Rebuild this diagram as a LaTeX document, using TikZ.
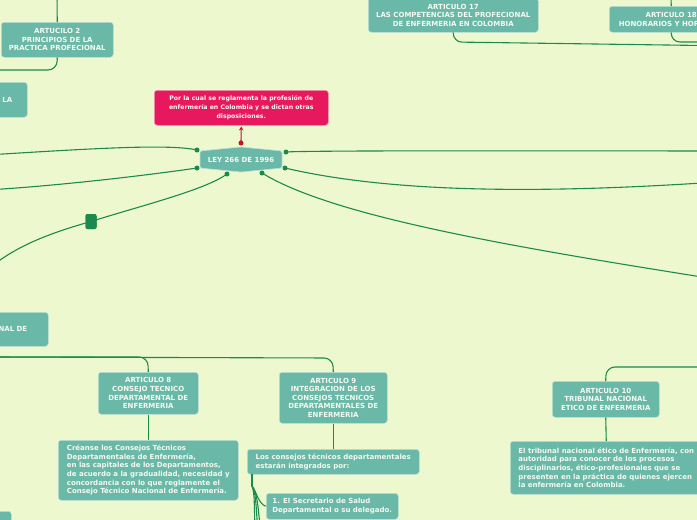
\documentclass[tikz,border=0pt]{standalone}
\usepackage{fontspec}
\setmainfont{DejaVu Sans}
\usetikzlibrary{arrows.meta}
\definecolor{bgc}{HTML}{EEF8CF}
\definecolor{boxc}{HTML}{6AB8A8}
\definecolor{lnc}{HTML}{1B8A4A}
\definecolor{pinkc}{HTML}{E8185F}
\definecolor{redc}{HTML}{C8102E}
\definecolor{txtc}{HTML}{F5FAF0}
\tikzset{
  box/.style={rectangle, rounded corners=3pt, fill=boxc, draw=boxc!45!white, line width=0.5pt,
    inner sep=0pt, anchor=north west, font=\fontsize{7}{8.6}\selectfont\bfseries, text=txtc, align=center},
  lbox/.style={box, align=left},
  conn/.style={draw=lnc, line width=1.1pt},
  dotn/.style={circle, fill=lnc, inner sep=0pt, minimum size=5pt},
}
\begin{document}
\begin{tikzpicture}[x=1pt,y=-1pt]
\useasboundingbox (0,0) rectangle (697,520);
\fill[bgc] (0,0) rectangle (697,520);
\clip (0,0) rectangle (697,520);

% ---------- boxes (positions) ----------
\node[box, minimum width=112pt, minimum height=35pt] (art2) at (1,22)
  {ARTUCILO 2\\PRINCIPIOS DE LA\\PRACTICA PROFECIONAL};
\node[box, minimum width=107pt, minimum height=35pt, text width=77pt, align=right] (labox) at (-80,82) {LA};
\node[box, minimum width=148pt, minimum height=34pt, text width=106pt, align=right] (nalbox) at (-100,312) {NAL DE};
\node[box, minimum width=30pt, minimum height=30pt] (blbox) at (-19,511) {};
\node[box, minimum width=170pt, minimum height=34pt] (art17) at (368,-2)
  {ARTICULO 17\\LAS COMPETENCIAS DEL PROFECIONAL\\DE ENFERMERIA EN COLOMBIA};
\node[box, minimum width=124pt, minimum height=26pt] (art18) at (609,6)
  {ARTICULO 18\\HONORARIOS Y HORARIOS};
\node[box, fill=pinkc, draw=pinkc!45!white, minimum width=174pt, minimum height=35pt,
  font=\fontsize{6.2}{8.7}\selectfont\bfseries] (pink) at (154,90)
  {Por la cual se reglamenta la profesión de\\enfermería en Colombia y se dictan otras\\disposiciones.};
\node[box, minimum width=100pt, minimum height=42pt] (art8) at (98,372)
  {ARTICULO 8\\CONSEJO TECNICO\\DEPARTAMENTAL DE\\ENFERMERIA};
\node[lbox, minimum width=180pt, minimum height=60pt] (creanse) at (58,440)
  {Créanse los Consejos Técnicos\\Departamentales de Enfermería,\\en las capitales de los Departamentos,\\de acuerdo a la gradualidad, necesidad y\\concordancia con lo que reglamente el\\Consejo Técnico Nacional de Enfermería.};
\node[box, minimum width=108pt, minimum height=51pt] (art9) at (279,372)
  {ARTICULO 9\\INTEGRACION DE LOS\\CONSEJOS TECNICOS\\DEPARTAMENTALES DE\\ENFERMERIA};
\node[lbox, minimum width=172pt, minimum height=25pt] (consejos) at (247,449)
  {Los consejos técnicos departamentales\\estarán integrados por:};
\node[lbox, minimum width=132pt, minimum height=26pt] (sec) at (266,493)
  {1. El Secretario de Salud\\Departamental o su delegado.};
\node[box, minimum width=107pt, minimum height=36pt] (art10) at (552,381)
  {ARTICULO 10\\TRIBUNAL NACIONAL\\ETICO DE ENFERMERIA};
\node[lbox, minimum width=192pt, minimum height=53pt] (tribunal) at (510,441)
  {El tribunal nacional ético de Enfermería, con\\autoridad para conocer de los procesos\\disciplinarios, ético-profesionales que se\\presenten en la práctica de quienes ejercen\\la enfermería en Colombia.};

% ---------- central node ----------
\path[fill=boxc, draw=boxc!45!white, line width=0.6pt, rounded corners=1.5pt]
  (200,151) -- (241,147) -- (282,151) -- (282,168) -- (241,172) -- (200,168) -- cycle;
\node[font=\fontsize{7}{8.6}\selectfont\bfseries, text=txtc] (ley) at (241,160) {LEY 266 DE 1996};

% ---------- anchor dots and off-picture ends ----------
\coordinate (lt) at (197,150);
\coordinate (lb) at (197,168);
\coordinate (bl) at (227,174);
\coordinate (br) at (262,173);
\coordinate (rt) at (286,152);
\coordinate (rb) at (285,168);
\coordinate (tp) at (241,143);
\coordinate (eL1) at (-5,154.5);
\coordinate (eL2) at (-5,189.5);
\coordinate (eL3) at (-4,263);
\coordinate (eR1) at (702,151);
\coordinate (eR2) at (702,183);
\coordinate (eR3) at (702,277);
\coordinate (e2top) at (57,-5);
\coordinate (e2) at (-5,70);
\coordinate (e17) at (702,45.5);
\coordinate (e18top) at (671,-5);
\coordinate (e18) at (702,42);
\coordinate (eB) at (-5,357);
\coordinate (e10) at (702,367);
\coordinate (cs) at (252,474);
\coordinate (eD1) at (255,526);
\coordinate (eD2) at (257.5,526);
\coordinate (eD3) at (260,526);

% ---------- connectors ----------
\draw[conn] (lt) .. controls (170,144) and (100,148) .. (eL1);
\draw[conn] (lb) .. controls (170,172) and (80,184) .. (eL2);
\node[rectangle, rounded corners=2pt, fill=lnc, inner sep=0pt, minimum width=11pt, minimum height=15pt] (sq) at (91,221.5) {};
\draw[conn] (bl) .. controls (205,190) and (140,206) .. (sq.center);
\draw[conn] (sq.center) .. controls (50,233) and (20,245) .. (eL3);
\node[rectangle, rounded corners=2pt, fill=lnc, inner sep=0pt, minimum width=11pt, minimum height=15pt] (sqtop) at (sq) {};
\draw[conn] (br) .. controls (330,215) and (500,245) .. (eR3);
\draw[conn] (rt) .. controls (300,151) and (400,150.5) .. (eR1);
\draw[conn] (rb) .. controls (400,195) and (560,192) .. (eR2);

\draw[conn] (e2top) -- (art2.north);
\draw[conn, rounded corners=9pt] (art2.south) -- (57,70) -- (e2);
\draw[conn, rounded corners=9pt] (art17.south) -- (453,42) -- (e17);
\draw[conn] (e18top) -- (art18.north);
\draw[conn, rounded corners=9pt] (art18.south) -- (671,42) -- (e18);

\draw[conn, rounded corners=9pt] (eB) -- (148,357) -- (art8.north);
\draw[conn, rounded corners=9pt] (eB) -- (333,358) -- (art9.north);
\draw[conn, rounded corners=9pt] (e10) -- (606,367) -- (art10.north);
\draw[conn] (art8.south) -- (creanse.north);
\draw[conn] (art9.south) -- (consejos.north);
\draw[conn] (art10.south) -- (tribunal.north);

\draw[conn] (cs) -- (252,486) .. controls (256,490) and (258,504) .. (sec.west);
\draw[conn] (cs) -- (252,486) .. controls (255,494) and (254,506) .. (eD1);
\draw[conn] (cs) -- (252,486) .. controls (256,493) and (256,506) .. (eD2);
\draw[conn] (cs) -- (252,486) .. controls (257,492) and (258,506) .. (eD3);

% pink arrow
\draw[redc, line width=1.1pt, -{Stealth[length=4pt,width=4.5pt]}, shorten >=1pt] (tp) -- (pink.south);
\node[circle, fill=redc, inner sep=0pt, minimum size=5pt] (tpdot) at (tp) {};

% dots
\node[dotn] (dlt) at (lt) {};
\node[dotn] (dlb) at (lb) {};
\node[dotn] (dbl) at (bl) {};
\node[dotn] (dbr) at (br) {};
\node[dotn] (drt) at (rt) {};
\node[dotn] (drb) at (rb) {};
\end{tikzpicture}
\end{document}
